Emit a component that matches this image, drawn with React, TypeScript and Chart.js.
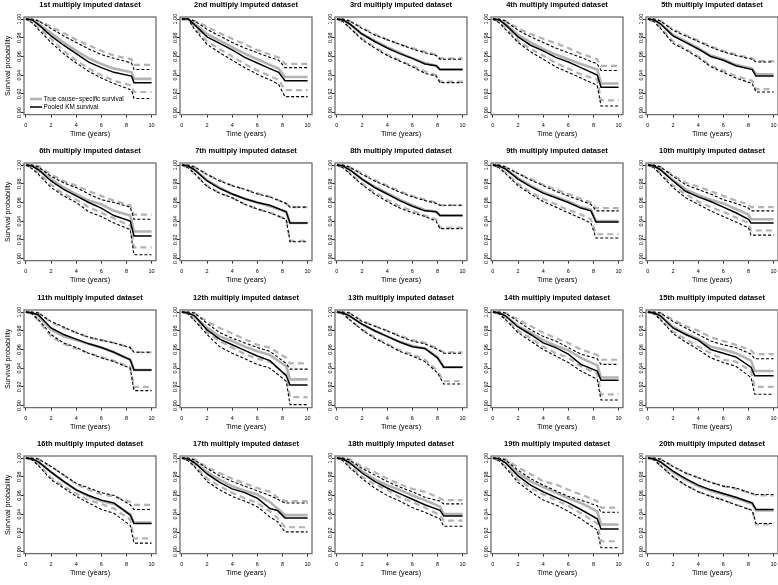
import React, { useEffect, useRef } from 'react';
import { Chart, registerables } from 'chart.js';
Chart.register(...registerables);

const FONT = '"Liberation Sans", Arial, Helvetica, sans-serif';
Chart.defaults.font.family = FONT;

const TITLES = [
  '1st multiply imputed dataset', '2nd multiply imputed dataset', '3rd multiply imputed dataset',
  '4th multiply imputed dataset', '5th multiply imputed dataset', '6th multiply imputed dataset',
  '7th multiply imputed dataset', '8th multiply imputed dataset', '9th multiply imputed dataset',
  '10th multiply imputed dataset', '11th multiply imputed dataset', '12th multiply imputed dataset',
  '13th multiply imputed dataset', '14th multiply imputed dataset', '15th multiply imputed dataset',
  '16th multiply imputed dataset', '17th multiply imputed dataset', '18th multiply imputed dataset',
  '19th multiply imputed dataset', '20th multiply imputed dataset',
];

const X_TICKS = [0, 2, 4, 6, 8, 10];
const X_TICK_LABELS = ['0', '2', '4', '6', '8', '10'];
const Y_TICKS = [0.9, 0.92, 0.94, 0.96, 0.98, 1.0];
const Y_TICK_LABELS = ['0.90', '0.92', '0.94', '0.96', '0.98', '1.00'];
const LEGEND_LABELS = ['True cause\u2212specific survival', 'Pooled KM survival'];

// shared time points (years); each curve then has values at the panel's two drop times and at 10
const TIMES = [0, 0.5, 1, 2, 3, 4, 5, 6, 7];
const END_TIME = 10;
const DROP_TIMES = [
  [8.4, 8.6], [7.7, 8.2], [7.9, 8.2], [8.3, 8.6], [8.3, 8.6],
  [8.3, 8.6], [8.3, 8.6], [7.9, 8.2], [7.8, 8.2], [8.0, 8.2],
  [8.3, 8.6], [8.3, 8.6], [8.0, 8.5], [8.3, 8.6], [8.2, 8.5],
  [8.3, 8.6], [7.6, 8.2], [8.2, 8.5], [8.3, 8.6], [8.3, 8.6],
];

const KM = [
  [1, 0.999, 0.994, 0.982, 0.972, 0.963, 0.954, 0.948, 0.943, 0.939, 0.932, 0.932],
  [1, 1.0, 0.994, 0.981, 0.974, 0.967, 0.959, 0.953, 0.947, 0.943, 0.934, 0.934],
  [1, 0.999, 0.995, 0.984, 0.976, 0.969, 0.963, 0.958, 0.952, 0.950, 0.946, 0.946],
  [1, 0.999, 0.994, 0.981, 0.972, 0.966, 0.959, 0.954, 0.948, 0.940, 0.927, 0.927],
  [1, 0.999, 0.995, 0.982, 0.975, 0.968, 0.960, 0.956, 0.950, 0.946, 0.939, 0.939],
  [1, 0.999, 0.995, 0.983, 0.974, 0.967, 0.960, 0.954, 0.946, 0.940, 0.924, 0.924],
  [1, 0.999, 0.995, 0.983, 0.975, 0.969, 0.964, 0.960, 0.957, 0.950, 0.938, 0.938],
  [1, 0.999, 0.995, 0.985, 0.976, 0.969, 0.962, 0.956, 0.951, 0.950, 0.946, 0.946],
  [1, 0.999, 0.996, 0.985, 0.977, 0.970, 0.965, 0.960, 0.954, 0.951, 0.939, 0.939],
  [1, 0.999, 0.995, 0.983, 0.972, 0.966, 0.961, 0.955, 0.949, 0.942, 0.938, 0.938],
  [1, 0.999, 0.997, 0.983, 0.976, 0.971, 0.966, 0.962, 0.957, 0.949, 0.938, 0.938],
  [1, 0.999, 0.996, 0.981, 0.971, 0.965, 0.959, 0.953, 0.948, 0.932, 0.922, 0.922],
  [1, 0.999, 0.996, 0.987, 0.980, 0.974, 0.968, 0.963, 0.961, 0.951, 0.941, 0.941],
  [1, 0.999, 0.996, 0.984, 0.976, 0.967, 0.962, 0.955, 0.944, 0.937, 0.927, 0.927],
  [1, 0.999, 0.996, 0.983, 0.976, 0.970, 0.960, 0.956, 0.952, 0.941, 0.932, 0.932],
  [1, 0.999, 0.996, 0.985, 0.975, 0.966, 0.960, 0.955, 0.952, 0.939, 0.930, 0.930],
  [1, 0.999, 0.995, 0.983, 0.974, 0.967, 0.963, 0.957, 0.946, 0.944, 0.936, 0.936],
  [1, 0.999, 0.995, 0.984, 0.975, 0.968, 0.962, 0.956, 0.950, 0.944, 0.938, 0.938],
  [1, 0.999, 0.995, 0.981, 0.971, 0.964, 0.958, 0.952, 0.945, 0.935, 0.924, 0.924],
  [1, 0.999, 0.996, 0.986, 0.978, 0.971, 0.966, 0.962, 0.958, 0.952, 0.945, 0.945],
];

const KM_UPPER = [
  [1, 1.0, 0.998, 0.990, 0.982, 0.975, 0.968, 0.962, 0.958, 0.953, 0.946, 0.946],
  [1, 1.0, 0.998, 0.989, 0.982, 0.975, 0.969, 0.964, 0.959, 0.956, 0.948, 0.948],
  [1, 1.0, 0.998, 0.990, 0.983, 0.978, 0.973, 0.968, 0.964, 0.961, 0.957, 0.957],
  [1, 1.0, 0.998, 0.988, 0.981, 0.975, 0.969, 0.964, 0.959, 0.952, 0.945, 0.945],
  [1, 1.0, 0.998, 0.988, 0.982, 0.976, 0.970, 0.965, 0.961, 0.957, 0.954, 0.954],
  [1, 1.0, 0.998, 0.988, 0.981, 0.976, 0.969, 0.963, 0.960, 0.955, 0.942, 0.942],
  [1, 1.0, 0.998, 0.990, 0.983, 0.978, 0.974, 0.969, 0.966, 0.959, 0.955, 0.955],
  [1, 1.0, 0.998, 0.990, 0.983, 0.977, 0.971, 0.966, 0.962, 0.959, 0.957, 0.957],
  [1, 1.0, 0.998, 0.991, 0.984, 0.978, 0.972, 0.967, 0.962, 0.958, 0.951, 0.951],
  [1, 1.0, 0.998, 0.988, 0.979, 0.974, 0.969, 0.963, 0.959, 0.954, 0.951, 0.951],
  [1, 1.0, 0.999, 0.990, 0.984, 0.978, 0.973, 0.970, 0.967, 0.962, 0.957, 0.957],
  [1, 1.0, 0.999, 0.988, 0.978, 0.972, 0.967, 0.962, 0.958, 0.945, 0.939, 0.939],
  [1, 1.0, 0.999, 0.990, 0.985, 0.980, 0.974, 0.969, 0.966, 0.960, 0.956, 0.956],
  [1, 1.0, 0.999, 0.990, 0.981, 0.974, 0.969, 0.962, 0.955, 0.950, 0.944, 0.944],
  [1, 1.0, 0.999, 0.990, 0.983, 0.976, 0.969, 0.965, 0.962, 0.955, 0.950, 0.950],
  [1, 1.0, 0.999, 0.991, 0.982, 0.973, 0.968, 0.963, 0.960, 0.950, 0.945, 0.945],
  [1, 1.0, 0.998, 0.989, 0.981, 0.975, 0.970, 0.965, 0.960, 0.956, 0.952, 0.952],
  [1, 1.0, 0.998, 0.989, 0.982, 0.975, 0.969, 0.964, 0.958, 0.954, 0.951, 0.951],
  [1, 1.0, 0.998, 0.987, 0.978, 0.971, 0.965, 0.959, 0.955, 0.949, 0.942, 0.942],
  [1, 1.0, 0.999, 0.991, 0.984, 0.979, 0.974, 0.970, 0.968, 0.962, 0.961, 0.961],
];

const KM_LOWER = [
  [1, 0.996, 0.989, 0.975, 0.963, 0.953, 0.944, 0.937, 0.931, 0.924, 0.915, 0.915],
  [1, 1.0, 0.989, 0.973, 0.964, 0.956, 0.948, 0.941, 0.935, 0.930, 0.917, 0.917],
  [1, 0.997, 0.991, 0.978, 0.969, 0.961, 0.955, 0.949, 0.942, 0.939, 0.932, 0.932],
  [1, 0.996, 0.989, 0.975, 0.965, 0.957, 0.949, 0.943, 0.937, 0.929, 0.907, 0.907],
  [1, 0.997, 0.990, 0.974, 0.967, 0.959, 0.949, 0.943, 0.937, 0.931, 0.922, 0.922],
  [1, 0.996, 0.990, 0.976, 0.967, 0.960, 0.950, 0.945, 0.938, 0.931, 0.904, 0.904],
  [1, 0.997, 0.991, 0.977, 0.970, 0.965, 0.958, 0.953, 0.949, 0.942, 0.918, 0.918],
  [1, 0.997, 0.991, 0.979, 0.969, 0.961, 0.954, 0.949, 0.945, 0.940, 0.932, 0.932],
  [1, 0.997, 0.991, 0.978, 0.969, 0.961, 0.955, 0.949, 0.943, 0.938, 0.922, 0.922],
  [1, 0.997, 0.990, 0.976, 0.965, 0.958, 0.951, 0.945, 0.939, 0.933, 0.925, 0.925],
  [1, 0.998, 0.992, 0.976, 0.967, 0.962, 0.956, 0.951, 0.947, 0.940, 0.916, 0.916],
  [1, 0.998, 0.991, 0.976, 0.963, 0.956, 0.950, 0.944, 0.940, 0.926, 0.901, 0.901],
  [1, 0.998, 0.992, 0.981, 0.972, 0.965, 0.958, 0.953, 0.947, 0.935, 0.923, 0.923],
  [1, 0.998, 0.992, 0.978, 0.969, 0.960, 0.953, 0.946, 0.937, 0.928, 0.906, 0.906],
  [1, 0.998, 0.992, 0.977, 0.968, 0.960, 0.951, 0.946, 0.942, 0.930, 0.912, 0.912],
  [1, 0.998, 0.992, 0.977, 0.968, 0.959, 0.952, 0.945, 0.941, 0.928, 0.909, 0.909],
  [1, 0.997, 0.991, 0.975, 0.966, 0.959, 0.954, 0.948, 0.937, 0.932, 0.921, 0.921],
  [1, 0.997, 0.990, 0.978, 0.968, 0.960, 0.954, 0.947, 0.942, 0.935, 0.927, 0.927],
  [1, 0.997, 0.990, 0.974, 0.964, 0.955, 0.950, 0.943, 0.935, 0.923, 0.904, 0.904],
  [1, 0.998, 0.992, 0.980, 0.971, 0.964, 0.959, 0.955, 0.950, 0.944, 0.930, 0.930],
];

const TRUE_S = [
  [1, 0.999, 0.995, 0.985, 0.975, 0.966, 0.958, 0.952, 0.947, 0.943, 0.936, 0.936],
  [1, 1.0, 0.995, 0.984, 0.977, 0.970, 0.963, 0.957, 0.951, 0.947, 0.938, 0.938],
  [1, 0.999, 0.995, 0.984, 0.977, 0.970, 0.964, 0.958, 0.953, 0.950, 0.946, 0.946],
  [1, 0.999, 0.995, 0.983, 0.975, 0.968, 0.962, 0.957, 0.952, 0.946, 0.931, 0.931],
  [1, 0.999, 0.995, 0.983, 0.976, 0.969, 0.961, 0.957, 0.951, 0.947, 0.941, 0.941],
  [1, 0.999, 0.996, 0.985, 0.976, 0.969, 0.962, 0.958, 0.951, 0.946, 0.929, 0.929],
  [1, 0.999, 0.995, 0.984, 0.976, 0.969, 0.964, 0.960, 0.956, 0.950, 0.938, 0.938],
  [1, 0.999, 0.996, 0.985, 0.977, 0.970, 0.963, 0.957, 0.952, 0.950, 0.946, 0.946],
  [1, 0.999, 0.996, 0.986, 0.978, 0.971, 0.966, 0.961, 0.955, 0.952, 0.940, 0.940],
  [1, 0.999, 0.995, 0.984, 0.974, 0.968, 0.963, 0.959, 0.953, 0.947, 0.942, 0.942],
  [1, 0.999, 0.996, 0.981, 0.974, 0.970, 0.966, 0.962, 0.957, 0.949, 0.938, 0.938],
  [1, 0.999, 0.996, 0.983, 0.974, 0.969, 0.963, 0.958, 0.954, 0.942, 0.928, 0.928],
  [1, 0.999, 0.996, 0.987, 0.980, 0.974, 0.968, 0.964, 0.961, 0.952, 0.941, 0.941],
  [1, 0.999, 0.996, 0.985, 0.978, 0.970, 0.964, 0.959, 0.951, 0.943, 0.930, 0.930],
  [1, 0.999, 0.996, 0.984, 0.977, 0.971, 0.963, 0.960, 0.956, 0.948, 0.937, 0.937],
  [1, 0.999, 0.996, 0.985, 0.975, 0.966, 0.959, 0.954, 0.951, 0.940, 0.931, 0.931],
  [1, 0.999, 0.996, 0.985, 0.977, 0.970, 0.965, 0.961, 0.953, 0.946, 0.939, 0.939],
  [1, 0.999, 0.996, 0.986, 0.977, 0.971, 0.966, 0.960, 0.955, 0.948, 0.940, 0.940],
  [1, 0.999, 0.996, 0.984, 0.975, 0.969, 0.963, 0.957, 0.952, 0.943, 0.929, 0.929],
  [1, 0.999, 0.996, 0.985, 0.977, 0.970, 0.965, 0.961, 0.957, 0.951, 0.944, 0.944],
];

const TRUE_UPPER = [
  [1, 1.0, 0.998, 0.992, 0.985, 0.978, 0.972, 0.966, 0.961, 0.957, 0.951, 0.951],
  [1, 1.0, 0.998, 0.992, 0.985, 0.979, 0.973, 0.967, 0.962, 0.959, 0.952, 0.952],
  [1, 1.0, 0.998, 0.991, 0.984, 0.978, 0.973, 0.969, 0.965, 0.962, 0.958, 0.958],
  [1, 1.0, 0.998, 0.990, 0.984, 0.979, 0.974, 0.969, 0.963, 0.957, 0.950, 0.950],
  [1, 1.0, 0.998, 0.989, 0.983, 0.977, 0.971, 0.966, 0.962, 0.958, 0.955, 0.955],
  [1, 1.0, 0.999, 0.990, 0.983, 0.978, 0.972, 0.967, 0.962, 0.957, 0.947, 0.947],
  [1, 1.0, 0.998, 0.990, 0.984, 0.978, 0.974, 0.970, 0.966, 0.959, 0.955, 0.955],
  [1, 1.0, 0.998, 0.991, 0.984, 0.978, 0.972, 0.967, 0.963, 0.960, 0.957, 0.957],
  [1, 1.0, 0.998, 0.991, 0.985, 0.979, 0.974, 0.969, 0.964, 0.960, 0.954, 0.954],
  [1, 1.0, 0.998, 0.989, 0.981, 0.977, 0.972, 0.967, 0.962, 0.958, 0.955, 0.955],
  [1, 1.0, 0.999, 0.989, 0.983, 0.978, 0.973, 0.970, 0.967, 0.962, 0.957, 0.957],
  [1, 1.0, 0.999, 0.990, 0.983, 0.977, 0.971, 0.965, 0.962, 0.951, 0.945, 0.945],
  [1, 1.0, 0.999, 0.991, 0.985, 0.980, 0.975, 0.970, 0.967, 0.961, 0.957, 0.957],
  [1, 1.0, 0.999, 0.992, 0.985, 0.978, 0.972, 0.967, 0.960, 0.954, 0.949, 0.949],
  [1, 1.0, 0.999, 0.992, 0.985, 0.980, 0.973, 0.969, 0.965, 0.959, 0.955, 0.955],
  [1, 1.0, 0.999, 0.991, 0.982, 0.972, 0.966, 0.961, 0.959, 0.953, 0.950, 0.950],
  [1, 1.0, 0.999, 0.990, 0.984, 0.978, 0.973, 0.968, 0.964, 0.958, 0.954, 0.954],
  [1, 1.0, 0.999, 0.991, 0.985, 0.978, 0.972, 0.967, 0.964, 0.957, 0.955, 0.955],
  [1, 1.0, 0.999, 0.990, 0.983, 0.975, 0.972, 0.966, 0.961, 0.954, 0.947, 0.947],
  [1, 1.0, 0.999, 0.991, 0.984, 0.979, 0.974, 0.970, 0.967, 0.962, 0.960, 0.960],
];

const TRUE_LOWER = [
  [1, 0.997, 0.991, 0.979, 0.966, 0.956, 0.947, 0.940, 0.934, 0.929, 0.922, 0.922],
  [1, 1.0, 0.991, 0.976, 0.968, 0.960, 0.952, 0.945, 0.939, 0.935, 0.924, 0.924],
  [1, 0.997, 0.991, 0.979, 0.970, 0.962, 0.956, 0.950, 0.944, 0.940, 0.933, 0.933],
  [1, 0.997, 0.991, 0.977, 0.968, 0.961, 0.953, 0.947, 0.941, 0.935, 0.913, 0.913],
  [1, 0.997, 0.991, 0.976, 0.968, 0.960, 0.950, 0.945, 0.939, 0.934, 0.925, 0.925],
  [1, 0.997, 0.992, 0.979, 0.969, 0.963, 0.955, 0.949, 0.943, 0.935, 0.912, 0.912],
  [1, 0.997, 0.991, 0.978, 0.970, 0.965, 0.958, 0.953, 0.949, 0.942, 0.919, 0.919],
  [1, 0.997, 0.992, 0.980, 0.971, 0.963, 0.956, 0.951, 0.946, 0.942, 0.933, 0.933],
  [1, 0.997, 0.992, 0.980, 0.971, 0.964, 0.958, 0.952, 0.947, 0.942, 0.926, 0.926],
  [1, 0.997, 0.991, 0.978, 0.969, 0.961, 0.955, 0.950, 0.944, 0.938, 0.930, 0.930],
  [1, 0.998, 0.991, 0.974, 0.966, 0.961, 0.956, 0.952, 0.948, 0.941, 0.920, 0.920],
  [1, 0.998, 0.992, 0.978, 0.969, 0.962, 0.955, 0.950, 0.947, 0.933, 0.909, 0.909],
  [1, 0.998, 0.992, 0.981, 0.973, 0.966, 0.959, 0.955, 0.949, 0.937, 0.926, 0.926],
  [1, 0.998, 0.993, 0.980, 0.972, 0.963, 0.956, 0.951, 0.942, 0.934, 0.912, 0.912],
  [1, 0.998, 0.993, 0.979, 0.971, 0.963, 0.956, 0.949, 0.947, 0.937, 0.920, 0.920],
  [1, 0.998, 0.993, 0.979, 0.970, 0.962, 0.955, 0.951, 0.946, 0.934, 0.914, 0.914],
  [1, 0.997, 0.992, 0.978, 0.970, 0.963, 0.957, 0.952, 0.943, 0.936, 0.926, 0.926],
  [1, 0.998, 0.992, 0.980, 0.972, 0.966, 0.958, 0.953, 0.947, 0.939, 0.933, 0.933],
  [1, 0.997, 0.991, 0.977, 0.968, 0.961, 0.955, 0.949, 0.941, 0.930, 0.911, 0.911],
  [1, 0.998, 0.992, 0.980, 0.971, 0.964, 0.959, 0.955, 0.950, 0.944, 0.929, 0.929],
];

const GREY = '#b3b3b3';
const COL_X = [0, 156, 311, 467, 622];
const ROW_Y = [0, 146, 293, 439];
const CW = 160;
const CH = 142;

const boxPlugin = {
  id: 'plotBox',
  afterDatasetsDraw(chart: any) {
    const { ctx, chartArea: a } = chart;
    ctx.save();
    ctx.strokeStyle = '#6e6e6e';
    ctx.lineWidth = 1.3;
    ctx.strokeRect(a.left, a.top, a.right - a.left, a.bottom - a.top);
    ctx.restore();
  },
};

const legendPlugin = {
  id: 'kmLegend',
  afterDraw(chart: any) {
    const { ctx, chartArea: a } = chart;
    const styles = [
      { color: GREY, width: 2.6 },
      { color: '#000', width: 1.5 },
    ];
    ctx.save();
    ctx.font = `6.4px ${FONT}`;
    ctx.textBaseline = 'middle';
    ctx.fillStyle = '#000';
    LEGEND_LABELS.forEach((label, i) => {
      const y = a.bottom - 15.6 + i * 8;
      ctx.beginPath();
      ctx.strokeStyle = styles[i].color;
      ctx.lineWidth = styles[i].width;
      ctx.moveTo(a.left + 6, y);
      ctx.lineTo(a.left + 18, y);
      ctx.stroke();
      ctx.fillText(label, a.left + 19.5, y);
    });
    ctx.restore();
  },
};

function Panel({ idx }: { idx: number }) {
  const ref = useRef<HTMLCanvasElement>(null);
  useEffect(() => {
    const times = [...TIMES, DROP_TIMES[idx][0], DROP_TIMES[idx][1], END_TIME];
    const pts = (vals: number[]) => vals.map((y, i) => ({ x: times[i], y }));
    const line = (label: string, vals: number[], color: string, width: number, dash: number[]) => ({
      label,
      data: pts(vals),
      borderColor: color,
      borderWidth: width,
      borderDash: dash,
      pointRadius: 0,
      fill: false,
      tension: 0,
      borderCapStyle: 'butt',
    });
    const chart = new Chart(ref.current as HTMLCanvasElement, {
      type: 'line',
      data: {
        datasets: [
          line('Pooled KM survival', KM[idx], '#000', 1.5, []),
          line('Pooled KM lower', KM_LOWER[idx], '#000', 1.1, [3, 2]),
          line('Pooled KM upper', KM_UPPER[idx], '#000', 1.1, [3, 2]),
          line('True cause-specific survival', TRUE_S[idx], GREY, 2.6, []),
          line('True lower', TRUE_LOWER[idx], GREY, 2.2, [6, 4]),
          line('True upper', TRUE_UPPER[idx], GREY, 2.2, [6, 4]),
        ] as any,
      },
      options: {
        responsive: false,
        animation: false,
        events: [],
        layout: { padding: { left: 0, right: 4, top: 0, bottom: 0 } },
        plugins: {
          legend: { display: false },
          tooltip: { enabled: false },
          title: {
            display: true,
            text: TITLES[idx],
            fullSize: false,
            color: '#000',
            font: { size: 7.5, weight: 'bold', family: FONT },
            padding: { top: 0.5, bottom: 7.5 },
          },
        },
        scales: {
          x: {
            type: 'linear',
            min: -0.15,
            max: 10.35,
            afterBuildTicks: (s: any) => {
              s.ticks = X_TICKS.map((v) => ({ value: v }));
            },
            afterFit: (s: any) => {
              s.height = 27.4;
            },
            ticks: {
              autoSkip: false,
              maxRotation: 0,
              minRotation: 0,
              padding: 5,
              color: '#000',
              font: { size: 5.5, family: FONT },
              callback: (_v: any, i: number) => X_TICK_LABELS[i],
            },
            grid: { display: true, drawOnChartArea: false, drawTicks: true, tickLength: 3, color: '#000', lineWidth: 0.8 },
            border: { display: false },
            title: {
              display: true,
              text: 'Time (years)',
              color: '#000',
              font: { size: 7.2, family: FONT },
              padding: { top: 0, bottom: 3.3 },
            },
          },
          y: {
            type: 'linear',
            min: 0.8978,
            max: 1.0022,
            afterBuildTicks: (s: any) => {
              s.ticks = Y_TICKS.map((v) => ({ value: v }));
            },
            afterFit: (s: any) => {
              s.width = 24;
            },
            ticks: {
              autoSkip: false,
              minRotation: 90,
              maxRotation: 90,
              crossAlign: 'center',
              padding: -3.8,
              color: '#000',
              font: { size: 5.5, family: FONT },
              callback: (_v: any, i: number) => Y_TICK_LABELS[i],
            },
            grid: { display: true, drawOnChartArea: false, drawTicks: true, tickLength: 3, color: '#000', lineWidth: 0.8 },
            border: { display: false },
            title: {
              display: idx % 5 === 0,
              text: 'Survival probability',
              color: '#000',
              font: { size: 7.2, family: FONT },
              padding: { top: 3.8, bottom: 0 },
            },
          },
        },
      } as any,
      plugins: idx === 0 ? [boxPlugin, legendPlugin] : [boxPlugin],
    });
    return () => chart.destroy();
  }, [idx]);
  const r = Math.floor(idx / 5);
  const c = idx % 5;
  return (
    <canvas
      ref={ref}
      width={CW}
      height={CH}
      style={{ position: 'absolute', left: COL_X[c], top: ROW_Y[r], width: CW, height: CH }}
    />
  );
}

export default function App() {
  return (
    <div
      style={{
        position: 'absolute',
        left: 0,
        top: 0,
        width: 778,
        height: 585,
        overflow: 'hidden',
        background: '#fff',
      }}
    >
      {TITLES.map((_, i) => (
        <Panel key={i} idx={i} />
      ))}
    </div>
  );
}
